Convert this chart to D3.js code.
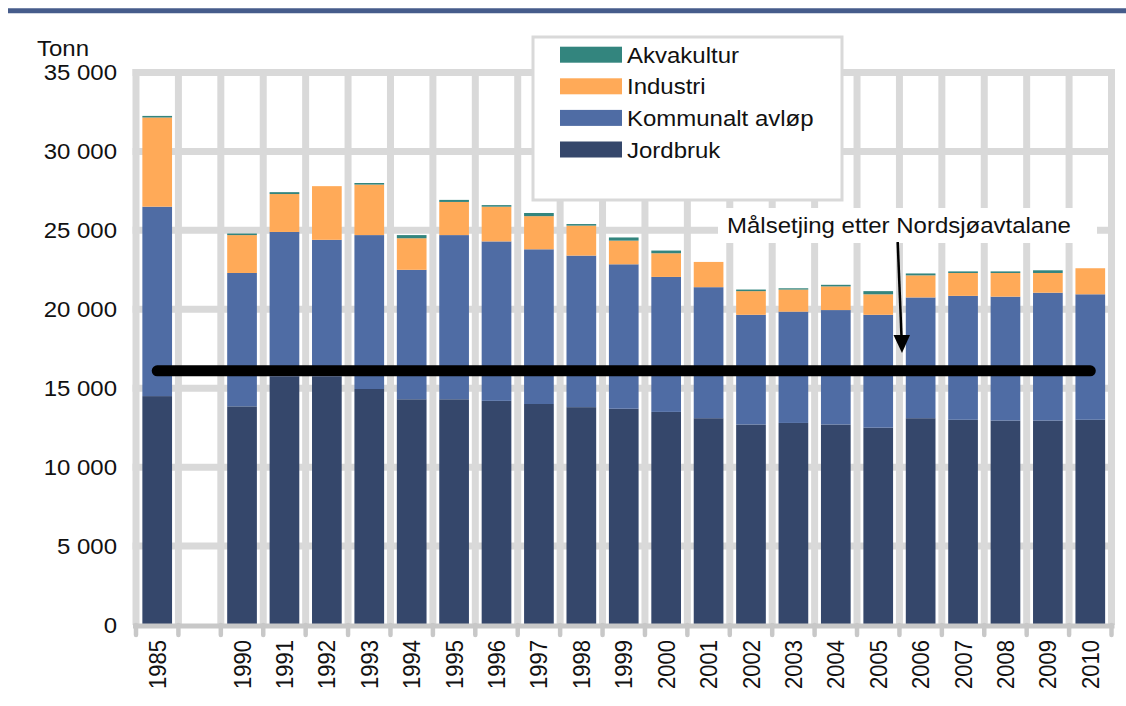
<!DOCTYPE html>
<html lang="no">
<head>
<meta charset="UTF-8">
<title>Nitrogen - Tonn</title>
<script src="https://d3js.org/d3.v7.min.js"></script>
<style>
  body { margin: 0; background: #fff; }
  text { font-family: "Liberation Sans", Arial, sans-serif; fill: #111; }
</style>
</head>
<body>
<script>
// data (tonn)
var years = ["1985", "", "1990", "1991", "1992", "1993", "1994", "1995", "1996", "1997", "1998", "1999",
             "2000", "2001", "2002", "2003", "2004", "2005", "2006", "2007", "2008", "2009", "2010"];
var jordbruk   = [14500, null, 13850, 15750, 15750, 14950, 14300, 14300, 14200, 14000, 13800, 13700,
                  13500, 13100, 12700, 12800, 12700, 12500, 13100, 13000, 12950, 12950, 13000];
var kommunalt  = [12000, null, 8450, 9150, 8650, 9750, 8200, 10400, 10100, 9800, 9600, 9150,
                  8550, 8300, 6950, 7050, 7250, 7150, 7650, 7850, 7850, 8100, 7950];
var industri   = [5650, null, 2400, 2400, 3400, 3200, 2000, 2100, 2200, 2100, 1900, 1500,
                  1500, 1600, 1500, 1400, 1500, 1300, 1400, 1450, 1500, 1250, 1650];
var akvakultur = [100, null, 100, 120, 0, 100, 200, 130, 100, 200, 100, 200,
                  170, 0, 100, 80, 100, 200, 120, 100, 100, 170, 0];
var seriesNames = ["Jordbruk", "Kommunalt avløp", "Industri", "Akvakultur"];
var seriesColors = ["#35476b", "#4f6ca4", "#ffaa58", "#33857e"];
var yTicks = [0, 5000, 10000, 15000, 20000, 25000, 30000, 35000];
var target = 16100;
var targetLabel = "Målsetjing etter Nordsjøavtalane";

var width = 1126, height = 706;
var plotLeft = 136, plotRight = 1111.5, plotTop = 72.5, plotBottom = 625;
var grid = "#d9d9d9";
var stretchK = 1.09;

var svg = d3.select("body").append("svg")
    .attr("width", width)
    .attr("height", height);

// text is a bit wide in the original
function stretch(sel) {
    sel.each(function() {
        var w = this.getComputedTextLength();
        this.setAttribute("textLength", w * stretchK);
        this.setAttribute("lengthAdjust", "spacingAndGlyphs");
    });
}

var rows = years.map(function(y, i) {
    return { i: i, Jordbruk: jordbruk[i] || 0, "Kommunalt avløp": kommunalt[i] || 0,
             Industri: industri[i] || 0, Akvakultur: akvakultur[i] || 0 };
});

var x = d3.scaleBand().domain(d3.range(years.length)).range([plotLeft, plotRight])
    .paddingInner(0.3).paddingOuter(0.15);
var y = d3.scaleLinear().domain([0, 35000]).range([plotBottom, plotTop]);
var color = d3.scaleOrdinal().domain(seriesNames).range(seriesColors);

// top rule
svg.append("line")
    .attr("x1", 8).attr("x2", width).attr("y1", 10.8).attr("y2", 10.8)
    .attr("stroke", "#465c8b").attr("stroke-width", 5);

// grid
var bounds = d3.range(years.length + 1).map(function(i) { return plotLeft + i * x.step(); });
svg.append("g").selectAll("line")
    .data(bounds)
    .join("line")
    .attr("x1", d => d).attr("x2", d => d)
    .attr("y1", plotTop - 3.5).attr("y2", plotBottom)
    .attr("stroke", grid).attr("stroke-width", 7);
svg.append("g").selectAll("line")
    .data(yTicks.slice(1))
    .join("line")
    .attr("x1", plotLeft - 3.5).attr("x2", plotRight + 3.5)
    .attr("y1", d => y(d)).attr("y2", d => y(d))
    .attr("stroke", grid).attr("stroke-width", 7);

// bars
var stack = d3.stack().keys(seriesNames)(rows);
svg.append("g").selectAll("g")
    .data(stack)
    .join("g")
    .attr("fill", d => color(d.key))
    .selectAll("rect")
    .data(d => d.filter(s => years[s.data.i] !== ""))
    .join("rect")
    .attr("x", d => x(d.data.i))
    .attr("width", x.bandwidth())
    .attr("y", d => y(d[1]))
    .attr("height", d => y(d[0]) - y(d[1]));

// x axis: base line, boundary ticks, labels
svg.append("line")
    .attr("x1", plotLeft - 3).attr("x2", plotRight + 3).attr("y1", plotBottom + 1).attr("y2", plotBottom + 1)
    .attr("stroke", "#c8c8c8").attr("stroke-width", 5);
svg.append("g").selectAll("line")
    .data(bounds)
    .join("line")
    .attr("x1", d => d).attr("x2", d => d)
    .attr("y1", plotBottom).attr("y2", plotBottom + 10)
    .attr("stroke", "#c8c8c8").attr("stroke-width", 4.5)
    .attr("stroke-linecap", "round");

var xAxis = svg.append("g")
    .attr("transform", "translate(0," + plotBottom + ")")
    .call(d3.axisBottom(x).tickSize(0).tickFormat(i => years[i]));
xAxis.select(".domain").remove();
xAxis.selectAll("text")
    .attr("font-size", 22)
    .attr("text-anchor", "end")
    .attr("transform", "scale(" + stretchK + ",1) rotate(-90)")
    .attr("x", -15).attr("y", 7.8).attr("dy", null)
    .attr("fill", "#111");

// y axis
var nb = d3.formatLocale({ decimal: ",", thousands: " ", grouping: [3], currency: ["", ""] });
var yAxis = svg.append("g")
    .attr("transform", "translate(" + plotLeft + ",0)")
    .call(d3.axisLeft(y).tickValues(yTicks).tickSize(0).tickPadding(19).tickFormat(nb.format(",")));
yAxis.select(".domain").remove();
yAxis.selectAll("text").attr("font-size", 22).attr("fill", "#111").call(stretch);

svg.append("text")
    .attr("x", 37).attr("y", 56)
    .attr("font-size", 22)
    .text("Tonn")
    .call(stretch);

// target line
svg.append("line")
    .attr("x1", x(0) + x.bandwidth() / 2).attr("x2", x(years.length - 1) + x.bandwidth() / 2)
    .attr("y1", y(target)).attr("y2", y(target))
    .attr("stroke", "#000").attr("stroke-width", 11)
    .attr("stroke-linecap", "round");

// legend
var legend = svg.append("g");
legend.append("rect")
    .attr("x", 533).attr("y", 37).attr("width", 309).attr("height", 163)
    .attr("fill", "#fff").attr("stroke", grid).attr("stroke-width", 3);
var items = legend.selectAll("g.item")
    .data(seriesNames.slice().reverse())
    .join("g")
    .attr("class", "item")
    .attr("transform", (d, i) => "translate(560," + (46.7 + i * 31.6) + ")");
items.append("rect")
    .attr("width", 62).attr("height", 16)
    .attr("fill", d => color(d));
items.append("text")
    .attr("x", 67).attr("y", 16)
    .attr("font-size", 22)
    .text(d => d)
    .call(stretch);

// annotation
svg.append("rect")
    .attr("x", 718).attr("y", 208).attr("width", 379).attr("height", 35)
    .attr("fill", "#fff");
svg.append("text")
    .attr("x", 727).attr("y", 233)
    .attr("font-size", 22)
    .text(targetLabel)
    .call(stretch);

svg.append("line")
    .attr("x1", 897.7).attr("y1", 242).attr("x2", 901.5).attr("y2", 337)
    .attr("stroke", "#000").attr("stroke-width", 2.5);
svg.append("path")
    .attr("d", "M893.5,335 L910,335 L902,353 Z")
    .attr("fill", "#000");
</script>
</body>
</html>
